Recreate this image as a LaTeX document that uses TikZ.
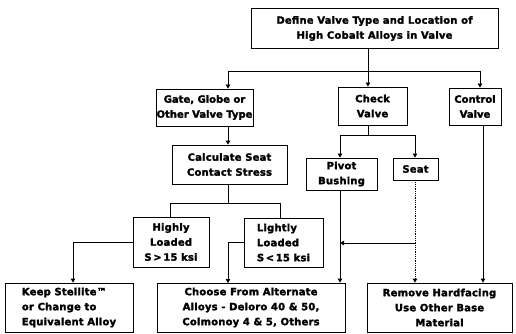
\documentclass[tikz,border=0pt]{standalone}
\usepackage{fontspec}
\setmainfont{DejaVu Sans}[LetterSpace=2, BoldFeatures={FakeBold=2}]
\usetikzlibrary{arrows.meta}
\begin{document}
\begin{tikzpicture}[x=1pt,y=-1pt,
  box/.style={draw, line width=0.8pt, inner sep=0pt, align=center,
    font=\fontsize{10}{15}\selectfont\bfseries},
  tight/.style={font=\fontsize{10}{15}\selectfont\bfseries\addfontfeatures{LetterSpace=0}},
  link/.style={line width=0.8pt},
  arr/.style={line width=0.8pt, -{Triangle[length=4pt,width=4.5pt]}}]
\useasboundingbox (0,0) rectangle (516,334);
\node[box, minimum width=247pt, minimum height=40pt] (def) at (374.5,28.5) {Define Valve Type and Location of\\High Cobalt Alloys in Valve};
\node[box, tight, minimum width=97pt, minimum height=37pt] (gate) at (204.5,107.5) {Gate, Globe or\\Other Valve Type};
\node[box, minimum width=69pt, minimum height=38pt] (check) at (372.5,106) {Check\\Valve};
\node[box, tight, minimum width=52pt, minimum height=37pt] (ctrl) at (475,106.5) {Control\\Valve};
\node[box, minimum width=115pt, minimum height=39pt] (calc) at (229.5,164.5) {Calculate Seat\\Contact Stress};
\node[box, minimum width=71pt, minimum height=32pt] (pivot) at (341.5,174) {Pivot\\Bushing};
\node[box, minimum width=45pt, minimum height=22pt] (seat) at (415.5,169) {Seat};
\node[box, minimum width=76pt, minimum height=50pt] (high) at (171,242) {Highly\\Loaded\\S\,>\,15 ksi};
\node[box, minimum width=79pt, minimum height=49pt, align=left] (light) at (283.5,242.5) {Lightly\\Loaded\\S\,<\,15 ksi};
\node[box, minimum width=128pt, minimum height=49pt, align=left] (keep) at (69,307.5) {Keep Stellite™\\or Change to\\Equivalent Alloy};
\node[box, minimum width=188pt, minimum height=49pt] (choose) at (251,307.5) {Choose From Alternate\\Alloys - Deloro 40 \& 50,\\Colmonoy 4 \& 5, Others};
\node[box, minimum width=145pt, minimum height=49pt] (remove) at (439.5,307.5) {Remove Hardfacing\\Use Other Base\\Material};
% junction coordinates
\coordinate (j1) at (368,71);
\coordinate (g) at (228,71);
\coordinate (c) at (480,71);
\coordinate (k) at (228,203);
\coordinate (hk) at (170,203);
\coordinate (lk) at (280,203);
\coordinate (kk) at (73,242);
\coordinate (ca) at (228,283);
\coordinate (pk) at (340,135);
\coordinate (sk) at (415,135);
\coordinate (sb) at (415,243);
\coordinate (cr) at (483,200);
% connectors
\draw[link] (def.south -| j1) -- (j1);
\draw[link] (g) -- (c);
\draw[arr] (g) -- (g |- gate.north);
\draw[arr] (j1) -- (j1 |- check.north);
\draw[arr] (c) -- (c |- ctrl.north);
\draw[arr] (gate.south -| g) -- (calc.north -| g);
\draw[link] (calc.south -| k) -- (k);
\draw[link] (hk |- high.north) -- (hk) -- (lk) -- (lk |- light.north);
\draw[arr] (high.west) -| (kk |- keep.north);
\draw[arr] (light.west) -| (ca);
\draw[link] (check.south -| j1) -- (j1 |- pk);
\draw[link] (pk) -- (sk);
\draw[arr] (pk) -- (pk |- pivot.north);
\draw[arr] (sk) -- (sk |- seat.north);
\draw[arr] (pivot.south -| pk) -- (choose.north -| pk);
\draw[arr, densely dotted] (seat.south -| sk) -- (remove.north -| sk);
\draw[arr] (sb) -- (sb -| pk);
\draw[arr] (ctrl.south -| cr) -- (remove.north -| cr);
\end{tikzpicture}
\end{document}
